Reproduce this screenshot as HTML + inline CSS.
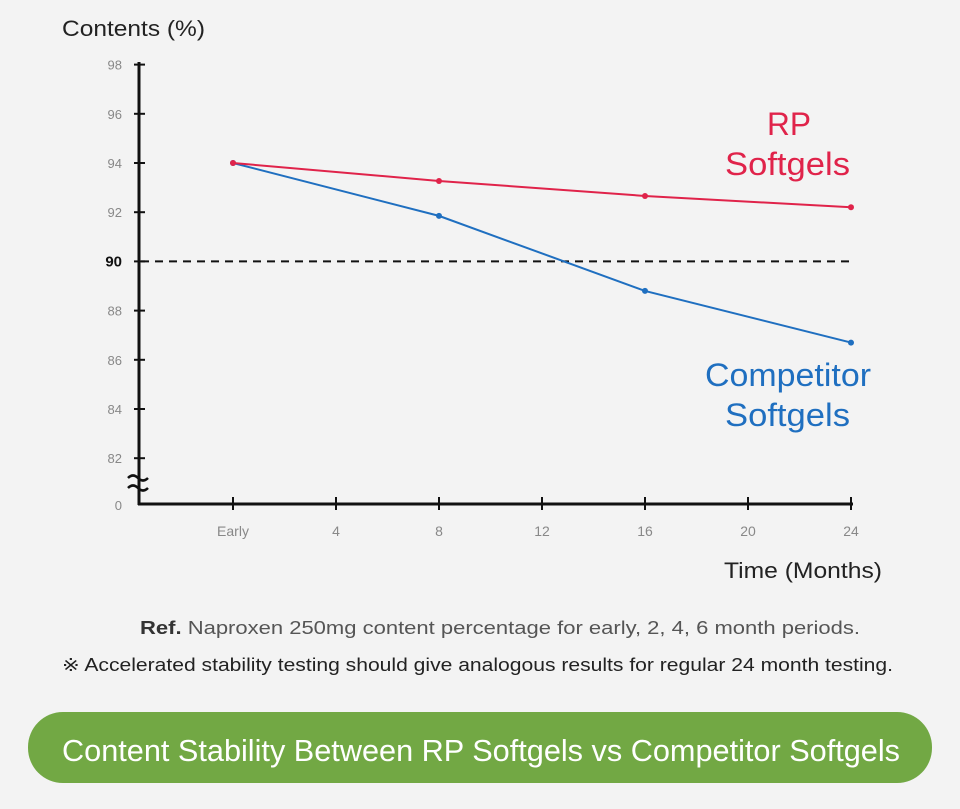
<!DOCTYPE html>
<html><head><meta charset="utf-8"><style>
body{margin:0;background:#f3f3f3;}
svg text{font-family:"Liberation Sans",sans-serif;}
</style></head><body>
<svg width="960" height="804" viewBox="0 0 960 804" xmlns="http://www.w3.org/2000/svg">
<rect width="960" height="804" fill="#f3f3f3"/>
<text x="62" y="36" font-size="22" fill="#222" textLength="143" lengthAdjust="spacingAndGlyphs">Contents (%)</text>
<g id="axes"></g>
<g id="series"></g>
<text x="767" y="135" font-size="32" fill="#e0234a" textLength="44" lengthAdjust="spacingAndGlyphs">RP</text>
<text x="725" y="175" font-size="32" fill="#e0234a" textLength="125" lengthAdjust="spacingAndGlyphs">Softgels</text>
<text x="705" y="386" font-size="32" fill="#1f6fc0" textLength="166" lengthAdjust="spacingAndGlyphs">Competitor</text>
<text x="725" y="426" font-size="32" fill="#1f6fc0" textLength="125" lengthAdjust="spacingAndGlyphs">Softgels</text>
<text x="724" y="578" font-size="22" fill="#222" textLength="158" lengthAdjust="spacingAndGlyphs">Time (Months)</text>
<text x="140" y="634" font-size="18" fill="#555" textLength="720" lengthAdjust="spacingAndGlyphs"><tspan fill="#333" font-weight="bold">Ref.</tspan> Naproxen 250mg content percentage for early, 2, 4, 6 month periods.</text>
<text x="62" y="671" font-size="18" fill="#222" textLength="831" lengthAdjust="spacingAndGlyphs">※ Accelerated stability testing should give analogous results for regular 24 month testing.</text>
<rect x="28" y="712" width="904" height="71" rx="35" fill="#72a844"/>
<text x="62" y="761" font-size="31" fill="#fff" textLength="838" lengthAdjust="spacingAndGlyphs">Content Stability Between RP Softgels vs Competitor Softgels</text>
</svg>
<script>
const xTicks=[0,4,8,12,16,20,24];
const xTickLabels=["Early","4","8","12","16","20","24"];
const yTicks=[82,84,86,88,90,92,94,96,98];
const months=[0,8,16,24];
const rpValues=[94,93.27,92.66,92.2];
const competitorValues=[94,91.85,88.8,86.7];
const threshold=90;
const NS="http://www.w3.org/2000/svg";
const X=m=>233+m*25.75;
const Y=v=>163+(94-v)*24.6;
function mk(tag,attrs,parent){const e=document.createElementNS(NS,tag);for(const k in attrs)e.setAttribute(k,attrs[k]);parent.appendChild(e);return e;}
const ax=document.getElementById('axes'),se=document.getElementById('series');
let e;
e=mk('line',{x1:139,y1:62,x2:139,y2:505,stroke:'#111','stroke-width':3},ax);


e=mk('line',{x1:138,y1:504,x2:853,y2:504,stroke:'#111','stroke-width':3},ax);


e=mk('path',{d:'M128,478 q5,-5 10,0 t10,0 M128,488 q5,-5 10,0 t10,0',stroke:'#111','stroke-width':2.5,fill:'none'},ax);


yTicks.forEach(v=>{
  e=mk('line',{x1:134,x2:145,y1:Y(v),y2:Y(v),stroke:'#111','stroke-width':2},ax);
  
  
  const t=mk('text',{x:122,y:Y(v)+5,'font-size':v===90?15:13,'font-weight':v===90?'bold':'normal',fill:v===90?'#111':'#888','text-anchor':'end'},ax);
  t.textContent=v;
  
  
});
e=mk('text',{x:122,y:510,'font-size':13,fill:'#888','text-anchor':'end'},ax);e.textContent='0';


xTicks.forEach((m,i)=>{
  e=mk('line',{x1:X(m),x2:X(m),y1:497,y2:510,stroke:'#111','stroke-width':2},ax);
  
  
  const t=mk('text',{x:X(m),y:536,'font-size':14,fill:'#888','text-anchor':'middle'},ax);
  t.textContent=xTickLabels[i];
  
  
});
e=mk('line',{x1:141,x2:852,y1:Y(threshold),y2:Y(threshold),stroke:'#111','stroke-width':2,'stroke-dasharray':'8,6'},ax);


function series(vals,color,name){
  const p=mk('polyline',{points:months.map((m,i)=>X(m)+','+Y(vals[i])).join(' '),fill:'none',stroke:color,'stroke-width':2},se);
  
  
  months.forEach((m,i)=>{
    const c=mk('circle',{cx:X(m),cy:Y(vals[i]),r:3,fill:color},se);
    
    
  });
}
series(competitorValues,'#1f6fc0','competitor');
series(rpValues,'#e0234a','rp');
</script>
</body></html>
